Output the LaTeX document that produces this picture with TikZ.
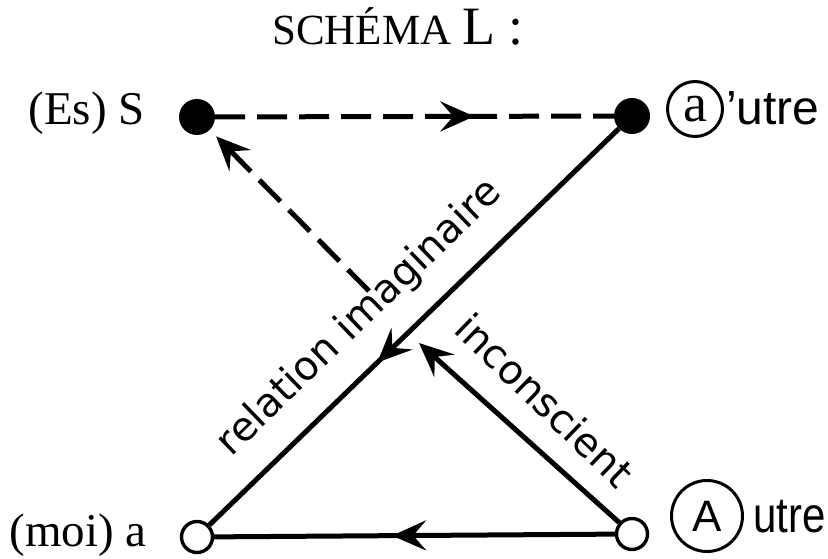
\documentclass[tikz,border=0pt]{standalone}
\usepackage{fontspec}
\setmainfont{Liberation Serif}
\newfontfamily\sansf{Liberation Sans}
\newfontfamily\dejavu{DejaVu Sans}
\usetikzlibrary{arrows.meta,decorations.markings}
\begin{document}
\begin{tikzpicture}[x=1pt,y=-1pt,
  >={Stealth[length=34pt,width=30pt,inset=13pt]},
  dot/.style={circle,fill=black,inner sep=0pt,minimum size=36pt},
  hole/.style={circle,draw=black,line width=3.4pt,fill=white,inner sep=0pt,minimum size=31pt},
  conn/.style={line width=5pt},
  dsh/.style={conn,dash pattern=on 30pt off 12pt},
  midarrow/.style={postaction={decorate},decoration={markings,mark=at position #1 with {\arrow{>}}}},
  txt/.style={inner sep=0pt},
  ring/.style={circle,draw=black,line width=3pt,inner sep=0pt},
  lbl/.style={font=\dejavu\fontsize{40}{40}\selectfont}
]
\useasboundingbox (0,0) rectangle (828,559);
% title
\node[txt,anchor=base] (title) at (398,45) {\fontsize{43}{43}\selectfont SCHÉMA \fontsize{54}{54}\selectfont L :};
% points
\node[dot] (S) at (197,117) {};
\node[dot] (ap) at (632,116) {};
\node[hole] (a) at (197,537) {};
\node[hole] (A) at (632,534) {};
\coordinate (g1) at (419,343);
\coordinate (g2) at (369,291);
% connectors
\draw[dsh,midarrow=0.65] (S) -- (ap);
\draw[conn,midarrow=0.59] (ap) -- (a);
\draw[conn,midarrow=0.556] (A) -- (a);
\draw[conn,->] (A) -- (g1);
\draw[dsh,->,shorten >=9pt] (g2) -- (S);
% labels
\node[lbl,rotate=44] (ri) at (360,318) {relation imaginaire};
\node[lbl,rotate=-44] (inc) at (545,400) {inconscient};
\node[txt,anchor=base east,font=\fontsize{47}{47}\selectfont] (lS) at (145,125) {(Es) S};
\node[txt,anchor=base east,font=\fontsize{47}{47}\selectfont] (la) at (147,546) {(moi) a};
\node[ring,minimum size=55pt,font=\fontsize{54}{54}\selectfont] (ca) at (695,109) {a};
\node[txt,anchor=base west,font=\sansf\fontsize{48}{48}\selectfont] (ut1) at (726,125) {’utre};
\node[ring,minimum size=71pt,font=\sansf\fontsize{44}{44}\selectfont] (cA) at (707,516) {A};
\node[txt,anchor=base west,font=\sansf\fontsize{50}{50}\selectfont] (ut2) at (753,532) {\scalebox{0.84}[1]{utre}};
\end{tikzpicture}
\end{document}
